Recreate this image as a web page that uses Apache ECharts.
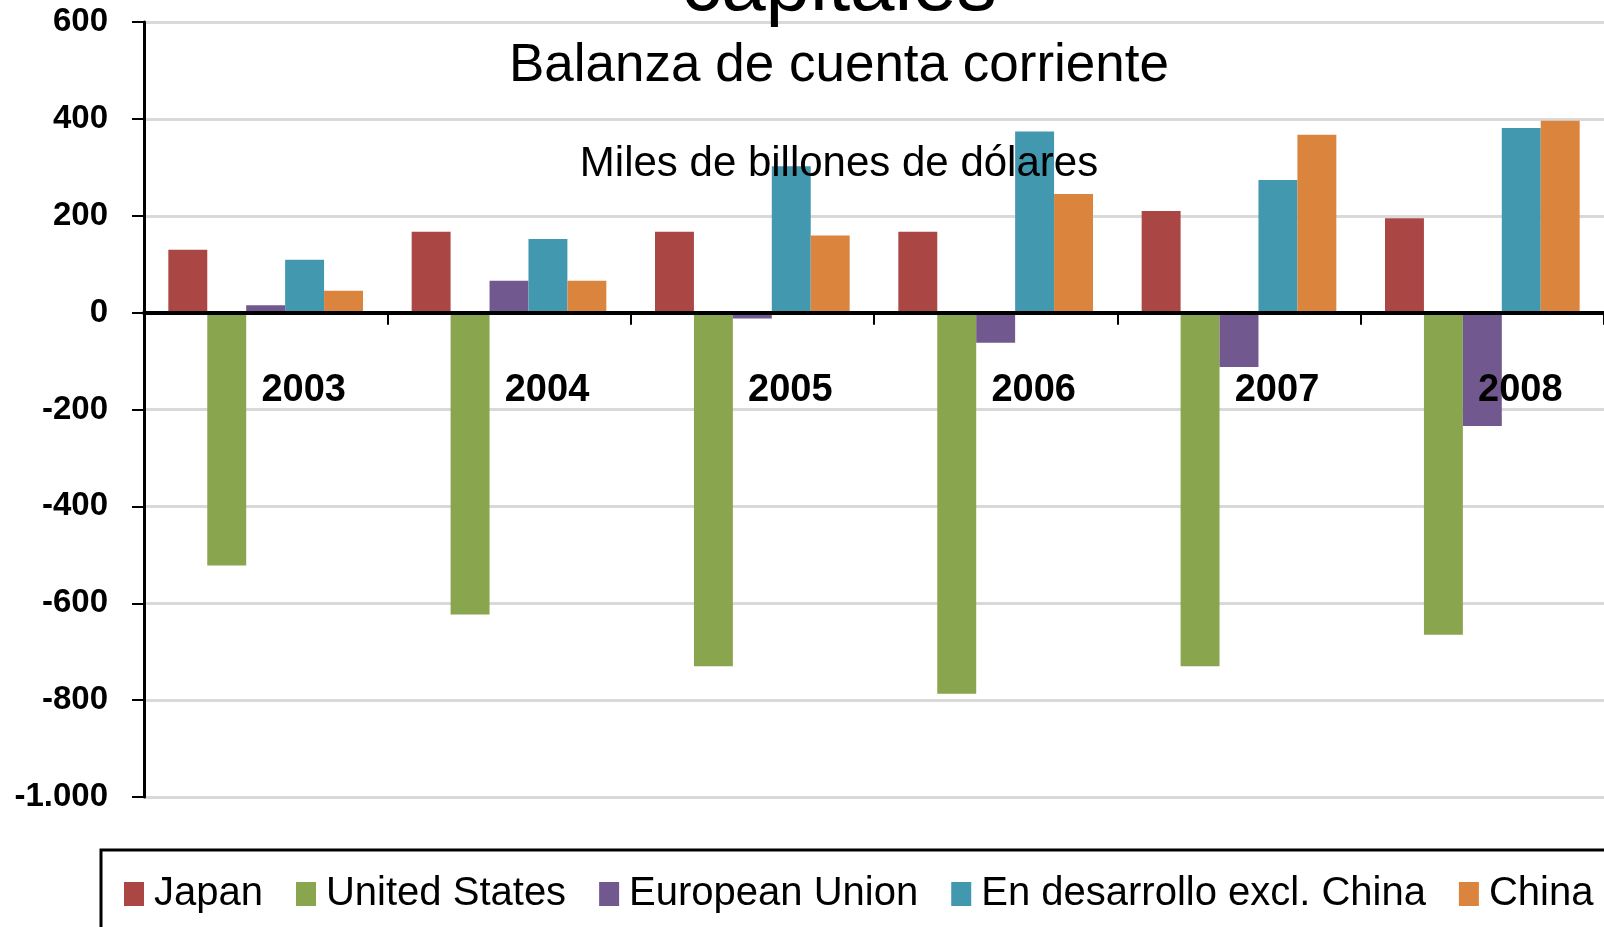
<!DOCTYPE html>
<html>
<head>
<meta charset="utf-8">
<script src="https://cdn.jsdelivr.net/npm/echarts@6/dist/echarts.min.js"></script>
<style>
html,body{margin:0;padding:0;background:#fff;}
#chart{width:1604px;height:927px;}
</style>
</head>
<body>
<div id="chart"></div>
<script>
var years = ['2003', '2004', '2005', '2006', '2007', '2008'];
var seriesNames = ['Japan', 'United States', 'European Union', 'En desarrollo excl. China', 'China'];
var japan = [130, 167, 167, 167, 210, 195];
var unitedStates = [-522, -623, -730, -787, -730, -665];
var europeanUnion = [15, 66, -12, -62, -112, -234];
var desarrollo = [109, 152, 302, 374, 274, 381];
var china = [45, 66, 159, 245, 367, 396];
var colors = ['#AA4643', '#89A54E', '#71588F', '#4198AF', '#DB843D'];
var yMin = -1000, yMax = 600, yStep = 200;

var FONT = '"Liberation Sans", Arial, sans-serif';
var chart = echarts.init(document.getElementById('chart'), null, {renderer: 'canvas'});
var dataSets = [japan, unitedStates, europeanUnion, desarrollo, china];

var series = seriesNames.map(function (n, i) {
  return {
    name: n,
    type: 'bar',
    data: dataSets[i],
    barGap: '0%',
    barCategoryGap: '20%',
    itemStyle: {color: colors[i]},
    animation: false
  };
});

chart.setOption({
  animation: false,
  color: colors,
  grid: {left: 144, right: -2, top: 22, bottom: 130},
  xAxis: {
    type: 'category',
    data: years,
    z: 10,
    axisLine: {onZero: true, lineStyle: {color: '#000', width: 4}},
    axisTick: {show: true, alignWithLabel: false, length: 12, lineStyle: {color: '#000', width: 2}},
    axisLabel: {
      fontFamily: FONT, fontSize: 38, fontWeight: 'bold', color: '#000',
      margin: -425, lineHeight: 38, padding: [0, 0, 0, 76]
    },
    splitLine: {show: false}
  },
  yAxis: {
    type: 'value',
    min: yMin, max: yMax, interval: yStep,
    axisLine: {show: true, lineStyle: {color: '#000', width: 3}},
    axisTick: {show: true, length: 12, lineStyle: {color: '#000', width: 2}},
    axisLabel: {
      fontFamily: FONT, fontSize: 33, fontWeight: 'bold', color: '#000', margin: 36,
      formatter: function (v) {
        var s = String(Math.abs(v)).replace(/\B(?=(\d{3})+(?!\d))/g, '.');
        return (v < 0 ? '-' : '') + s;
      }
    },
    splitLine: {show: true, lineStyle: {color: '#d9d9d9', width: 3}}
  },
  legend: {
    data: seriesNames,
    left: 124, top: 874,
    padding: 0,
    icon: 'rect',
    itemWidth: 20, itemHeight: 24, itemGap: 33,
    textStyle: {fontFamily: FONT, fontSize: 40, color: '#000', padding: [0, 0, 0, 5]}
  },
  graphic: {
    elements: [
      {type: 'text', z: 100, x: 839, y: -12, style: {text: 'capitales', font: '80px ' + FONT, fill: '#000', textAlign: 'center', verticalAlign: 'middle'}},
      {type: 'text', z: 100, x: 839, y: 66, style: {text: 'Balanza de cuenta corriente', font: '53px ' + FONT, fill: '#000', textAlign: 'center', verticalAlign: 'middle'}},
      {type: 'text', z: 100, x: 839, y: 164, style: {text: 'Miles de billones de dólares', font: '42px ' + FONT, fill: '#000', textAlign: 'center', verticalAlign: 'middle'}},
      {type: 'rect', z: 100, shape: {x: 101, y: 850, width: 1600, height: 200}, style: {fill: 'none', stroke: '#000', lineWidth: 3}}
    ]
  },
  series: series
});
</script>
</body>
</html>
